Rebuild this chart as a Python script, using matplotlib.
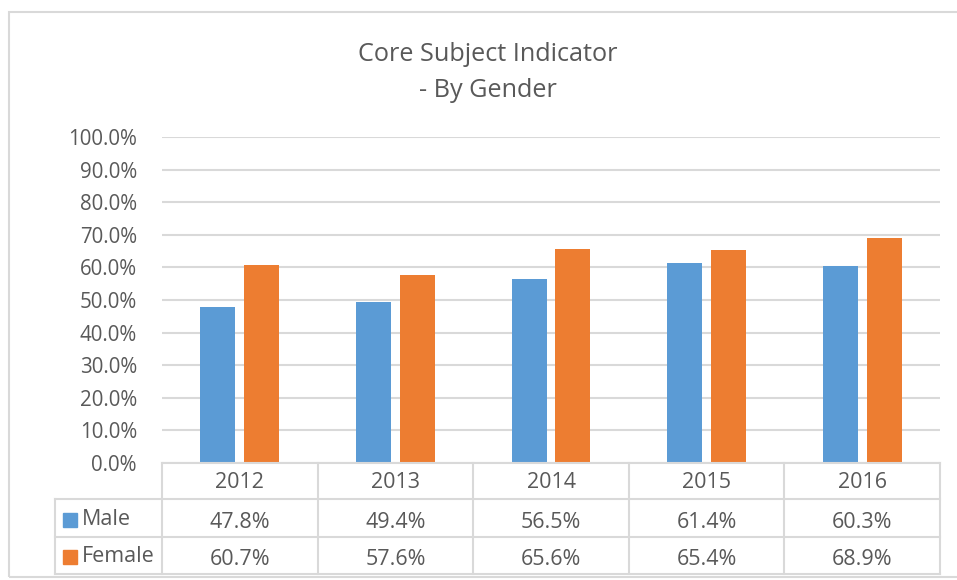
import matplotlib.pyplot as plt
from matplotlib.lines import Line2D
from matplotlib.patches import Rectangle
from matplotlib.ticker import PercentFormatter
import matplotlib.transforms as mtransforms

plt.rcParams['font.family'] = ['Open Sans', 'DejaVu Sans']

years = ['2012', '2013', '2014', '2015', '2016']
male = [47.8, 49.4, 56.5, 61.4, 60.3]
female = [60.7, 57.6, 65.6, 65.4, 68.9]
series = [('Male', male, '#5B9BD5'), ('Female', female, '#ED7D31')]

W, H = 957, 580
fig = plt.figure(figsize=(W / 100, H / 100), dpi=100)
txt = '#595959'
grid = '#D9D9D9'

def fy(py):
    return 1 - py / H

# chart border
fig.add_artist(Rectangle((9 / W, fy(577)), (W + 5) / W, (577 - 12) / H,
                         transform=fig.transFigure, fill=False,
                         edgecolor=grid, lw=1.5))

ax = fig.add_axes([162 / W, fy(463), (940 - 162) / W, (463 - 137) / H])
x = range(len(years))
offs = [-0.141, 0.141]
for (name, vals, col), o in zip(series, offs):
    ax.bar([i + o for i in x], vals, width=0.225, color=col, zorder=2)

ax.set_xlim(-0.5, len(years) - 0.5)
ax.set_ylim(0, 100)
ax.set_yticks(range(0, 101, 10))
ax.yaxis.set_major_formatter(PercentFormatter(decimals=1))
ax.tick_params(axis='y', length=0, labelsize=14.8, labelcolor=txt, pad=18)
ax.set_xticks([])
ax.grid(axis='y', color=grid, lw=1.5, zorder=0)
for s in ax.spines.values():
    s.set_visible(False)

fig.text(488 / W, fy(61), 'Core Subject Indicator', ha='center', va='baseline',
         fontsize=18.2, color=txt)
fig.text(488 / W, fy(97), '- By Gender', ha='center', va='baseline',
         fontsize=18.2, color=txt)

# data table below the axes
tr = mtransforms.blended_transform_factory(ax.transData, fig.transFigure)
rows_y = [463, 499, 537, 574]
n = len(years)
fig.add_artist(Line2D([-0.5, n - 0.5], [fy(463)] * 2, transform=tr, color=grid, lw=1.5))
for ry in rows_y[1:]:
    fig.add_artist(Line2D([55 / W, 940 / W], [fy(ry)] * 2,
                          transform=fig.transFigure, color=grid, lw=1.5))
for i in range(n + 1):
    fig.add_artist(Line2D([i - 0.5] * 2, [fy(463), fy(574)], transform=tr,
                          color=grid, lw=1.5))
fig.add_artist(Line2D([55 / W] * 2, [fy(499), fy(574)],
                      transform=fig.transFigure, color=grid, lw=1.5))

for i, yr in enumerate(years):
    fig.text(i, fy(488), yr, transform=tr, ha='center', va='baseline',
             fontsize=15.5, color=txt)
base = [528, 565]
for r, (name, vals, col) in enumerate(series):
    fig.add_artist(Rectangle((63 / W, fy(base[r] - 1)), 14 / W, 14 / H,
                             transform=fig.transFigure, color=col))
    fig.text(82 / W, fy(base[r] - 3), name, ha='left', va='baseline',
             fontsize=15.5, color=txt)
    for i, v in enumerate(vals):
        fig.text(i, fy(base[r]), f'{v:.1f}%', transform=tr, ha='center',
                 va='baseline', fontsize=15.5, color=txt)

fig.savefig('out.png', dpi=100)
